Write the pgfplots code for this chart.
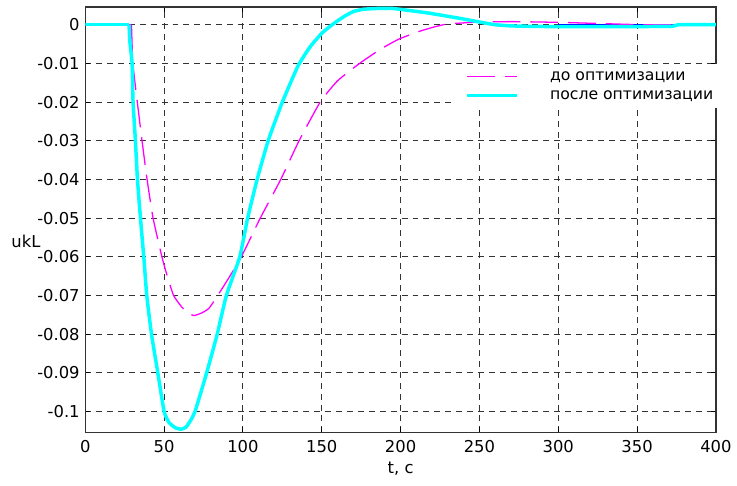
\documentclass[border=0pt]{standalone}
\usepackage{fontspec}
\setmainfont{DejaVu Sans}
\usepackage{pgfplots}
\pgfplotsset{compat=1.18}

\definecolor{cyanline}{RGB}{0,255,255}
\definecolor{magline}{RGB}{255,0,255}

\begin{document}
\begin{tikzpicture}
\fontsize{16.5pt}{19pt}\selectfont
\path (-86pt,-54pt) rectangle (651pt,436pt);
\begin{axis}[
    scale only axis,
    width=636pt, height=429pt,
    xmin=0, xmax=400,
    ymin=-0.1054, ymax=0.0046,
    xtick={0,50,...,400},
    ytick={-0.1,-0.09,-0.08,-0.07,-0.06,-0.05,-0.04,-0.03,-0.02,-0.01,0},
    yticklabels={-0.1,-0.09,-0.08,-0.07,-0.06,-0.05,-0.04,-0.03,-0.02,-0.01,0},
    xticklabels={0,50,100,150,200,250,300,350,400},
    scaled y ticks=false,
    tick align=inside,
    major tick length=5pt,
    tick style={black, line width=1pt},
    ticklabel style={font=\fontsize{16.5pt}{19pt}\selectfont},
    xticklabel style={yshift=-2pt},
    grid=major,
    major grid style={black!80, line width=1.1pt, dash pattern=on 6pt off 5pt},
    axis line style={black!80, line width=1.5pt},
    every axis y label/.style={at={(rel axis cs:0,0.45)}, anchor=east, xshift=-45pt, inner sep=0pt},
    every axis x label/.style={at={(rel axis cs:0.5,0)}, anchor=north, yshift=-30pt, inner sep=0pt},
    ylabel={ukL},
    xlabel={t, c},
    label style={font=\fontsize{16.5pt}{19pt}\selectfont},
    legend style={draw=none, fill=white, at={(rel axis cs:0.5865,0.867)}, anchor=north west,
        font=\fontsize{15.8pt}{19pt}\selectfont, inner xsep=10pt, inner ysep=4pt,
        row sep=1pt, column sep=31pt, nodes={inner sep=1pt, text height=12pt, text depth=4pt}},
    legend cell align=left,
    legend image code/.code={\draw[#1] (0pt,0pt) -- (50pt,0pt);},
    legend columns=1,
]
% thin lines hidden under the main curves
\addplot[blue, line width=1pt, forget plot] coordinates {(0,0) (28,0) (28.2,-0.004)};
\addplot[blue, line width=1pt, forget plot] coordinates {(300,0) (400,0)};

% flat starts
\addplot[magline, line width=1.3pt, forget plot] coordinates {(0,0) (29.3,0)};
\addplot[cyanline, line width=3.5pt, forget plot] coordinates {(0,0) (27.8,0)};

\addplot[magline, line width=1.3pt, dash pattern=on 28pt off 10pt, smooth, tension=0.3] coordinates {
(29.3,0) (30.2,-0.01) (33,-0.02) (36,-0.03) (39.2,-0.04) (43,-0.05)
(48.6,-0.06) (52,-0.065) (56,-0.07) (61,-0.0729) (65,-0.0745) (69,-0.0752)
(74,-0.0745) (78.5,-0.0733) (84,-0.07) (91,-0.0655) (99,-0.06) (111,-0.05)
(124,-0.04) (135.6,-0.03) (149,-0.02) (160,-0.0145) (174,-0.01) (187,-0.0064)
(199,-0.0037) (212,-0.0017) (222,-0.0005) (230,0.0002) (250,0.0007) (271,0.0008)
(302,0.0006) (327,0.0003) (355,0) (400,0)};
\addlegendentry{до оптимизации}

\addplot[cyanline, line width=3.5pt, smooth, tension=0.3] coordinates {
(27.8,0) (28.2,-0.004) (29.7,-0.01) (30.3,-0.02) (31.8,-0.03) (33.1,-0.04)
(35,-0.05) (37.1,-0.06) (39,-0.07) (42,-0.08) (46,-0.09) (50,-0.1) (53,-0.1028)
(57,-0.1042) (61,-0.1046) (64,-0.104) (67,-0.1022) (69.6,-0.1) (73,-0.0955)
(77,-0.09) (83.7,-0.08) (89.5,-0.07) (98,-0.06) (103,-0.05) (109,-0.04)
(116,-0.03) (125,-0.02) (135,-0.0106) (143,-0.0055) (150.3,-0.0021) (156.6,0)
(164,0.0021) (170,0.0034) (176.5,0.004) (185,0.0042) (195,0.0042) (205,0.0037)
(218,0.003) (239.6,0.0015) (250,0.0007) (260,0) (270,-0.0003)
(281,-0.0004) (300,-0.0005) (340,-0.0005) (372,-0.0004) (376,0) (400,0)};
\addlegendentry{после оптимизации}
\end{axis}
\end{tikzpicture}
\end{document}
